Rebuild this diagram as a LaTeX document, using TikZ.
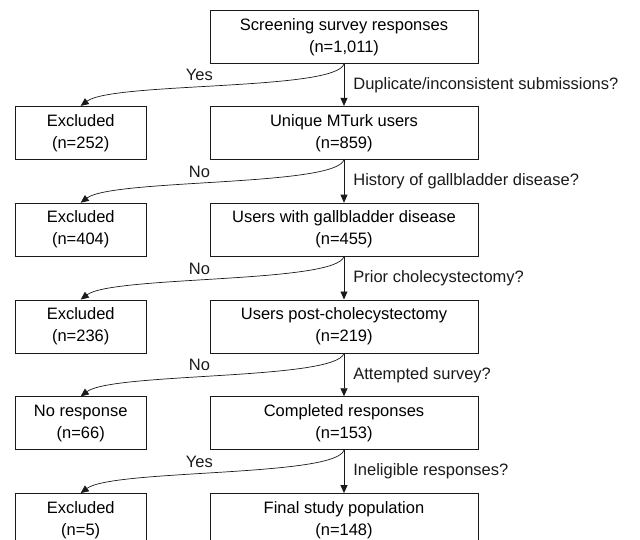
\documentclass[tikz,border=0pt]{standalone}
\usepackage{fontspec}
\setmainfont{Liberation Sans}
\usetikzlibrary{positioning,arrows.meta}
\definecolor{ink}{HTML}{1A1A1A}

\begin{document}
\begin{tikzpicture}[
  x=1pt, y=1pt,
  font=\fontsize{16.5}{22}\selectfont,
  stage/.style={draw=ink, line width=0.8pt, align=center, inner sep=2pt, minimum width=268pt, minimum height=53pt},
  drop/.style={draw=ink, line width=0.8pt, align=center, inner sep=2pt, minimum width=131pt, minimum height=53pt},
  >={Triangle[length=8pt,width=7pt]},
  flow/.style={->, line width=0.7pt, ink},
  lab/.style={inner sep=1pt, text=ink},
  ans/.style={inner sep=1pt, text=ink}
]
\useasboundingbox (0,0) rectangle (640,-540);
% ---------------------------------------------------------------- main column
\node[stage] (screen) at (344,-37) {Screening survey responses\\(n=1,011)};
\node[stage, below=42pt of screen] (unique) {Unique MTurk users\\(n=859)};
\node[stage, below=43pt of unique] (gall) {Users with gallbladder disease\\(n=455)};
\node[stage, below=43pt of gall] (post) {Users post-cholecystectomy\\(n=219)};
\node[stage, below=43pt of post] (done) {Completed responses\\(n=153)};
\node[stage, below=43pt of done] (final) {Final study population\\(n=148)};

% ---------------------------------------------------------------- exclusions
\node[drop, left=63pt of unique] (ex1) {Excluded\\(n=252)};
\node[drop, left=63pt of gall] (ex2) {Excluded\\(n=404)};
\node[drop, left=63pt of post] (ex3) {Excluded\\(n=236)};
\node[drop, left=63pt of done] (nores) {No response\\(n=66)};
\node[drop, left=63pt of final] (ex4) {Excluded\\(n=5)};

% ---------------------------------------------------------------- steps down
\draw[flow] (screen) -- node[lab, right=8pt] {Duplicate/inconsistent submissions?} (unique);
\draw[flow] (unique) -- node[lab, right=8pt] {History of gallbladder disease?} (gall);
\draw[flow] (gall) -- node[lab, right=8pt] {Prior cholecystectomy?} (post);
\draw[flow] (post) -- node[lab, right=8pt] {Attempted survey?} (done);
\draw[flow] (done) -- node[lab, right=8pt] {Ineligible responses?} (final);

% ---------------------------------------------------------------- branches out
\draw[flow] (screen.south) .. controls +(-8,-27) and +(32,24) .. node[ans, pos=0.56, above=5pt] {Yes} (ex1.north);
\draw[flow] (unique.south) .. controls +(-8,-27) and +(32,24) .. node[ans, pos=0.56, above=5pt] {No} (ex2.north);
\draw[flow] (gall.south) .. controls +(-8,-27) and +(32,24) .. node[ans, pos=0.56, above=5pt] {No} (ex3.north);
\draw[flow] (post.south) .. controls +(-8,-27) and +(32,24) .. node[ans, pos=0.56, above=5pt] {No} (nores.north);
\draw[flow] (done.south) .. controls +(-8,-27) and +(32,24) .. node[ans, pos=0.56, above=5pt] {Yes} (ex4.north);
\end{tikzpicture}
\end{document}
